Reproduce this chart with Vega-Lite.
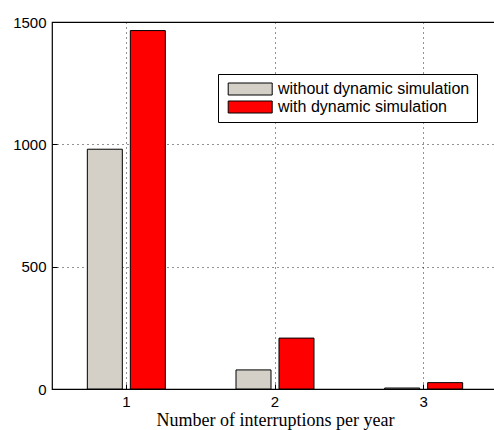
{
  "$schema": "https://vega.github.io/schema/vega-lite/v6.json",
  "width": 446,
  "height": 367,
  "autosize": {"type": "none"},
  "padding": {"left": 52, "top": 22, "right": -4, "bottom": 41},
  "background": "white",
  "config": {
    "view": {"stroke": "black", "strokeWidth": 1.2},
    "axis": {
      "labelFont": "Liberation Sans",
      "labelFontSize": 15,
      "labelColor": "black",
      "domain": false,
      "tickColor": "black",
      "gridColor": "black",
      "gridDash": [1, 4],
      "gridOpacity": 0.85,
      "gridWidth": 1
    }
  },
  "data": {
    "values": [
      {"n": "1", "series": "without dynamic simulation", "count": 980},
      {"n": "1", "series": "with dynamic simulation", "count": 1465},
      {"n": "2", "series": "without dynamic simulation", "count": 78},
      {"n": "2", "series": "with dynamic simulation", "count": 208},
      {"n": "3", "series": "without dynamic simulation", "count": 4},
      {"n": "3", "series": "with dynamic simulation", "count": 26}
    ]
  },
  "mark": {"type": "bar", "stroke": "black", "strokeWidth": 1},
  "encoding": {
    "x": {
      "field": "n",
      "type": "nominal",
      "scale": {"paddingInner": 0, "paddingOuter": 0},
      "axis": {
        "title": "Number of interruptions per year",
        "titleFont": "Liberation Serif",
        "titleFontSize": 18,
        "titleFontWeight": "normal",
        "titleColor": "black",
        "titlePadding": 2,
        "labelAngle": 0,
        "bandPosition": 0.5,
        "grid": true,
        "tickSize": -5,
        "labelPadding": 10
      }
    },
    "xOffset": {
      "field": "series",
      "type": "nominal",
      "sort": ["without dynamic simulation", "with dynamic simulation"],
      "scale": {"paddingInner": 0.186, "paddingOuter": 0.822}
    },
    "y": {
      "field": "count",
      "type": "quantitative",
      "scale": {"domain": [0, 1500], "nice": false},
      "axis": {
        "title": null,
        "values": [0, 500, 1000, 1500],
        "format": "d",
        "grid": true,
        "tickSize": -5,
        "labelPadding": 11
      }
    },
    "fill": {
      "field": "series",
      "type": "nominal",
      "sort": ["without dynamic simulation", "with dynamic simulation"],
      "scale": {
        "domain": ["without dynamic simulation", "with dynamic simulation"],
        "range": ["#d4d0c8", "#ff0000"]
      },
      "legend": {
        "title": null,
        "orient": "none",
        "legendX": 166,
        "legendY": 52,
        "padding": 7,
        "strokeColor": "black",
        "fillColor": "white",
        "symbolType": "M-0.8,-1L6.533,-1L6.533,1L-0.8,1Z",
        "symbolSize": 144,
        "symbolStrokeColor": "black",
        "symbolStrokeWidth": 1,
        "symbolOpacity": 1,
        "labelOffset": 37,
        "labelFont": "Liberation Sans",
        "labelFontSize": 16,
        "labelColor": "black",
        "labelLimit": 300,
        "rowPadding": 2
      }
    }
  }
}
